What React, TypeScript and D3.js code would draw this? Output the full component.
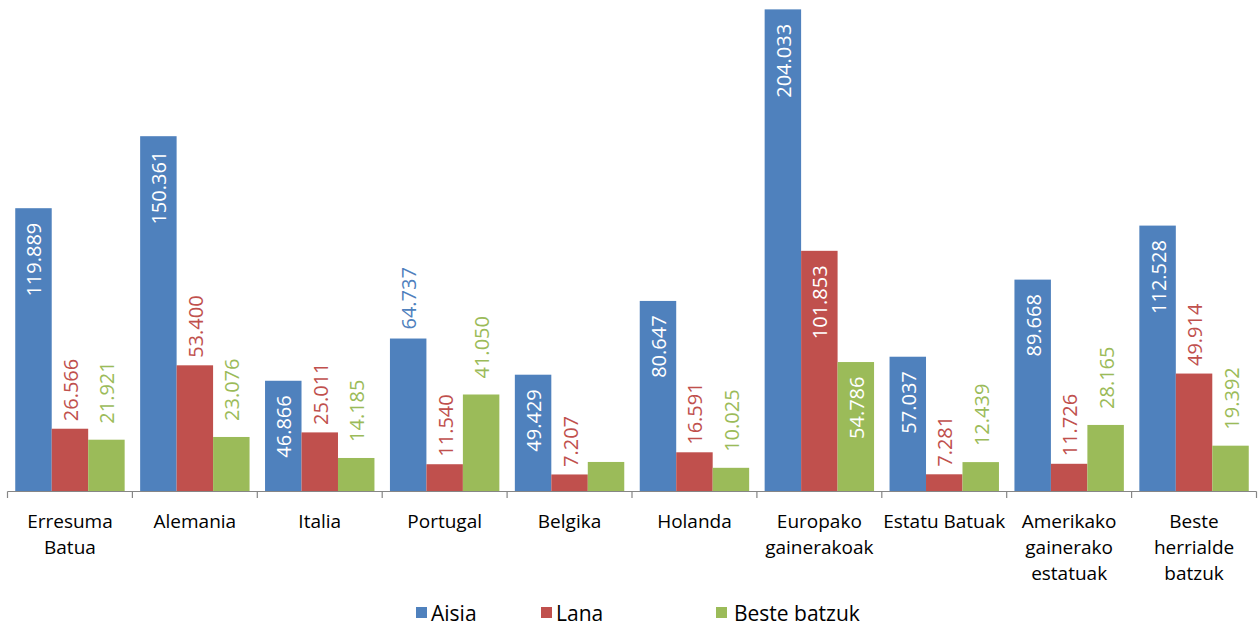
import React from "react";
import * as d3 from "d3";

const categories = [
  "Erresuma Batua", "Alemania", "Italia", "Portugal", "Belgika",
  "Holanda", "Europako gainerakoak", "Estatu Batuak", "Amerikako gainerako estatuak", "Beste herrialde batzuk",
];
const tickLines = [
  ["Erresuma", "Batua"], ["Alemania"], ["Italia"], ["Portugal"], ["Belgika"],
  ["Holanda"], ["Europako", "gainerakoak"], ["Estatu Batuak"], ["Amerikako", "gainerako", "estatuak"], ["Beste", "herrialde", "batzuk"],
];
const seriesNames = ["Aisia", "Lana", "Beste batzuk"];
const aisia = [119889, 150361, 46866, 64737, 49429, 80647, 204033, 57037, 89668, 112528];
const lana = [26566, 53400, 25011, 11540, 7207, 16591, 101853, 7281, 11726, 49914];
const beste = [21921, 23076, 14185, 41050, 12500, 10025, 54786, 12439, 28165, 19392];
// label placement: "in" = inside end (white), "out" = outside end, "" = no label
const aisiaPos = ["in", "in", "in", "out", "in", "in", "in", "in", "in", "in"];
const lanaPos = ["out", "out", "out", "out", "out", "out", "in", "out", "out", "out"];
const bestePos = ["out", "out", "out", "out", "", "out", "in", "out", "out", "out"];

const colors = ["#4F81BD", "#C0504D", "#9BBB59"];
const outGap = [9, 7.5, 16];

const W = 1259, H = 627;
const FONT = "'Open Sans', 'Noto Sans', sans-serif";

export default function App() {
  const values = [aisia, lana, beste];
  const positions = [aisiaPos, lanaPos, bestePos];
  const x0 = d3.scaleBand<string>().domain(categories).range([7.5, 1256.5]).padding(0);
  const bw = x0.bandwidth();
  const x1 = d3.scaleBand<string>().domain(seriesNames).range([bw * 0.062, bw * 0.938]).padding(0);
  const y = d3.scaleLinear().domain([0, 208000]).range([491.5, 0]);
  const fmt = d3.formatLocale({ decimal: ",", thousands: ".", grouping: [3], currency: ["", "€"] }).format(",d");
  const axisY = y(0);
  const ticks = d3.range(categories.length + 1).map((i) => 7.5 + i * bw);

  const legendItems = [
    { name: seriesNames[0], sx: 416, tx: 431 },
    { name: seriesNames[1], sx: 541, tx: 556 },
    { name: seriesNames[2], sx: 716, tx: 734 },
  ];

  return (
    <svg width={W} height={H} style={{ position: "absolute", left: 0, top: 0, background: "#fff" }} fontFamily={FONT}>
      <rect x={0} y={0} width={W} height={H} fill="#fff" />
      {categories.map((c, ci) => (
        <g key={c} transform={`translate(${x0(c)},0)`}>
          {seriesNames.map((s, si) => {
            const v = values[si][ci];
            const bx = x1(s)!;
            const top = y(v);
            return (
              <rect key={s} x={bx} y={top} width={x1.bandwidth()} height={axisY - top} fill={colors[si]} />
            );
          })}
        </g>
      ))}
      {categories.map((c, ci) => (
        <g key={c + "-lab"} transform={`translate(${x0(c)},0)`}>
          {seriesNames.map((s, si) => {
            const v = values[si][ci];
            const pos = positions[si][ci];
            if (!pos) return null;
            const cx = x1(s)! + x1.bandwidth() / 2 + 1;
            const top = y(v);
            if (pos === "in") {
              return (
                <text key={s} transform={`translate(${cx},${top + 14.5}) rotate(-90)`} textAnchor="end" dy="0.35em"
                  fontSize={20} fill="#fff">{fmt(v)}</text>
              );
            }
            return (
              <text key={s} transform={`translate(${cx},${top - outGap[si]}) rotate(-90)`} textAnchor="start" dy="0.35em"
                fontSize={20} fill={colors[si]}>{fmt(v)}</text>
            );
          })}
        </g>
      ))}
      <line x1={7.5} x2={1256.5} y1={axisY} y2={axisY} stroke="#868686" strokeWidth={1.2} />
      {ticks.map((t, i) => (
        <line key={i} x1={t} x2={t} y1={axisY} y2={axisY + 6.5} stroke="#868686" strokeWidth={1.2} />
      ))}
      {categories.map((c, ci) => (
        <text key={c + "-tick"} x={x0(c)! + bw / 2} y={528} textAnchor="middle" fontSize={19} fill="#000">
          {tickLines[ci].map((line, li) => (
            <tspan key={li} x={x0(c)! + bw / 2} y={528 + li * 26}>{line}</tspan>
          ))}
        </text>
      ))}
      {legendItems.map((l, i) => (
        <g key={l.name}>
          <rect x={l.sx} y={607} width={11} height={11} fill={colors[i]} />
          <text x={l.tx} y={621} fontSize={21} fill="#000">{l.name}</text>
        </g>
      ))}
    </svg>
  );
}
